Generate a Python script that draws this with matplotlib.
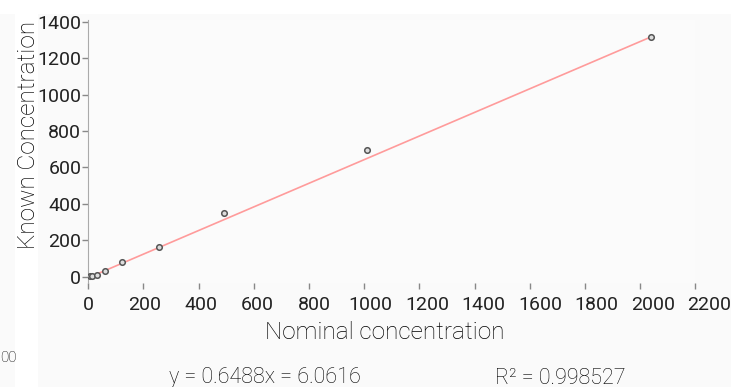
import numpy as np
import matplotlib.pyplot as plt
import matplotlib.transforms as mtransforms
from matplotlib.patches import Rectangle

# values
nominal = [5, 12, 30, 60, 122, 257, 492, 1011, 2041]
known = [2, 5, 11, 33, 79, 161, 350, 696, 1315]
slope, intercept = 0.6488, -6.0616
x_ticks = [0, 200, 400, 600, 800, 1000, 1200, 1400, 1600, 1800, 2000, 2200]
y_ticks = [0, 200, 400, 600, 800, 1000, 1200, 1400]

plt.rcParams['font.family'] = ['Roboto', 'DejaVu Sans']

fig = plt.figure(figsize=(7.31, 3.87), dpi=100, facecolor='#fafafa')

# white strips of the surrounding page
fig.patches.append(Rectangle((0, 1 - 14/387), 1, 14/387, transform=fig.transFigure,
                             facecolor='white', edgecolor='none', zorder=-5))
fig.patches.append(Rectangle((15/731, 0), 23/731, 1 - 14/387, transform=fig.transFigure,
                             facecolor='white', edgecolor='none', zorder=-5))

ax = fig.add_axes([88.3/731, 104/387, 607/731, 263/387])
ax.set_zorder(2)
ax.set_facecolor('#fbfbfb')

xs = np.array([min(nominal), max(nominal)])
ax.plot(xs, slope * xs + intercept, color='#ff9b9b', lw=1.2, zorder=2)
ax.plot(nominal, known, 'o', ms=4, mfc='#dddddd', mec='#555555', mew=1.1, zorder=3)

ax.set_xlim(0, 2200)
ax.set_ylim(-35, 1410)
ax.set_xticks(x_ticks)
ax.set_yticks(y_ticks)
ax.tick_params(axis='both', colors='#888888', labelcolor='#222222', labelsize=14,
               length=4, width=1)
ax.tick_params(axis='x', pad=5)
ax.tick_params(axis='y', pad=1)

# x tick labels in the reference drift right of their tick marks
for v, lab in zip(x_ticks, ax.get_xticklabels()):
    dx = v * (0.2825 - 0.276) / 100
    lab.set_transform(lab.get_transform() +
                      mtransforms.ScaledTranslation(dx, 0, fig.dpi_scale_trans))

for s in ['top', 'right', 'bottom']:
    ax.spines[s].set_visible(False)
ax.spines['left'].set_color('#aaaaaa')

ax.set_xlabel('Nominal concentration', fontsize=17.5, fontweight='light')
ax.xaxis.set_label_coords(0.489, -0.145)
ax.set_ylabel('Known Concentration', fontsize=17.5, fontweight='light')
ax.yaxis.set_label_coords(-0.079, 0.563)

fig.text(265/731, 1 - 378/387, 'y = 0.6488x = 6.0616', fontsize=15.5, fontweight='light',
         ha='center', va='center')
fig.text(560/731, 1 - 378/387, 'R² = 0.998527', fontsize=15.5, fontweight='light',
         ha='center', va='center')
fig.text(0, 1 - 358/387, '00', fontsize=11, fontweight='light', ha='left', va='center')

fig.savefig('out.png', dpi=100, facecolor=fig.get_facecolor())
